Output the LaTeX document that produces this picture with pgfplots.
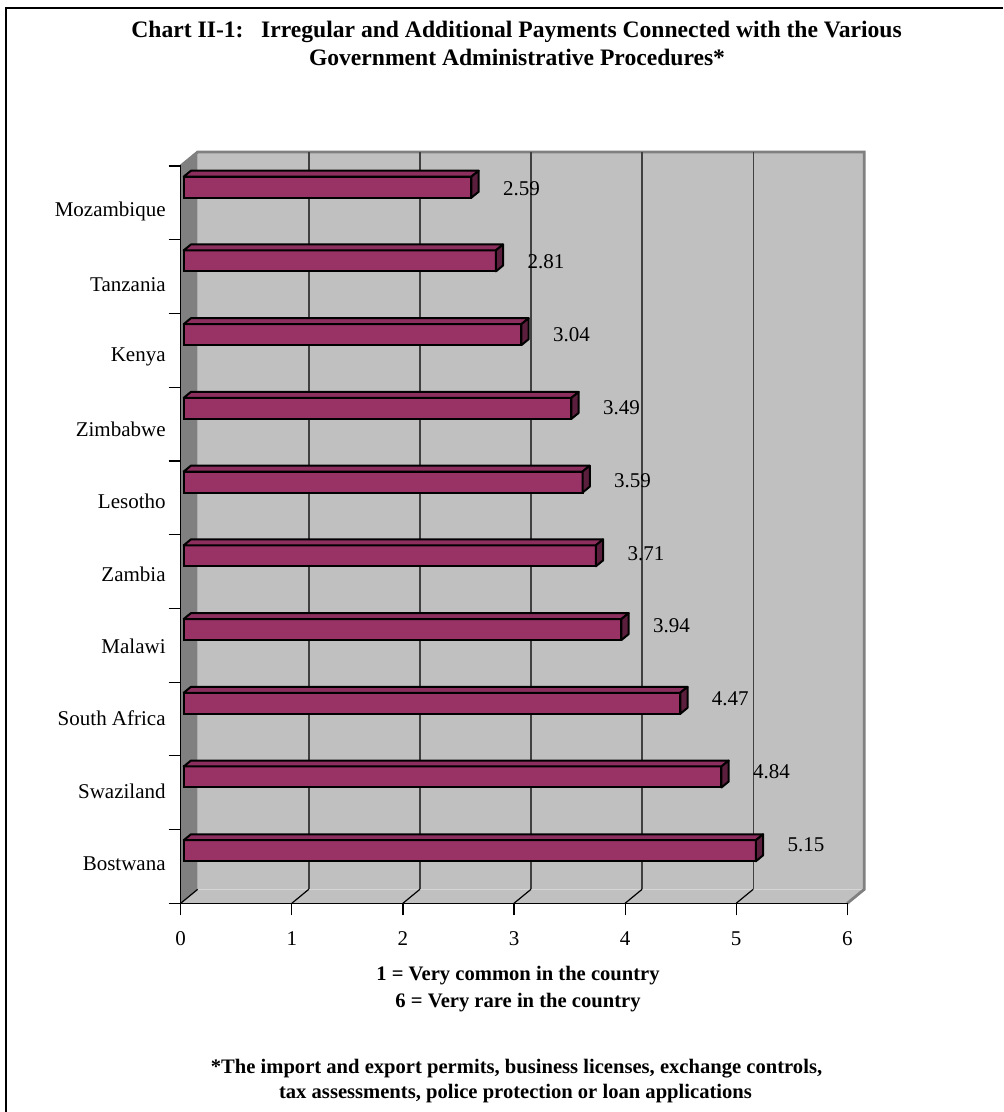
\documentclass[border=0pt]{standalone}
\usepackage{fontspec}
\setmainfont{Liberation Serif}
\usepackage{pgfplots}
\pgfplotsset{compat=1.18}
\usepackage{pgfplotstable}
\definecolor{barfront}{HTML}{993366}
\definecolor{bartop}{HTML}{8C2F5E}
\definecolor{barside}{HTML}{5C1E3D}
\definecolor{wall}{HTML}{C0C0C0}
\definecolor{sidewall}{HTML}{808080}
\pgfdeclareplotmark{nothing}{}

% p = position from bottom (0 = Bostwana), v = value
\pgfplotstableread{
p v
9 2.59
8 2.81
7 3.04
6 3.49
5 3.59
4 3.71
3 3.94
2 4.47
1 4.84
0 5.15
}\data

\begin{document}
\begin{tikzpicture}
\useasboundingbox (0pt,0pt) rectangle (501.5pt,556pt);
% frame
\draw[line width=1pt] (3pt,0pt) -- (3pt,552pt) -- (501.5pt,552pt);
% walls and floor
\fill[wall] (98.85pt,111.35pt) rectangle (432.15pt,480pt);
\fill[wall] (90.35pt,104.35pt) -- (423.65pt,104.35pt) -- (432.15pt,111.35pt) -- (98.85pt,111.35pt) -- cycle;
\fill[sidewall] (90.35pt,104.35pt) -- (98.85pt,111.35pt) -- (98.85pt,480pt) -- (90.35pt,473pt) -- cycle;
\draw[sidewall, line width=1.4pt, line join=miter] (90.35pt,473pt) -- (98.85pt,480pt) -- (432.15pt,480pt) -- (432.15pt,111.35pt) -- (423.65pt,104.35pt);
% gridlines on back wall and floor
\foreach \k in {1,...,5} \draw[black!75, line width=0.7pt] ({98.85pt+\k*55.55pt},111.35pt) -- ({98.85pt+\k*55.55pt},480pt);
\foreach \k in {0,...,5} \draw[black, line width=0.6pt] ({90.35pt+\k*55.55pt},104.35pt) -- ({98.85pt+\k*55.55pt},111.35pt);

\begin{axis}[
  at={(90.35pt,104.35pt)}, anchor=south west,
  scale only axis, width=333.3pt, height=368.65pt,
  xmin=0, xmax=6, ymin=0, ymax=10,
  axis lines*=left,
  axis line style={black, line width=0.6pt},
  xtick={0,1,2,3,4,5,6},
  ytick={0.5407,1.5226,2.5045,3.4865,4.4684,5.4503,6.4322,7.4141,8.3961,9.3780},
  yticklabels={Bostwana,Swaziland,South Africa,Malawi,Zambia,Lesotho,Zimbabwe,Kenya,Tanzania,Mozambique},
  minor ytick={0,1,2,3,4,5,6,7,8,9,10},
  tick align=outside,
  major tick length=6pt, minor tick length=6pt,
  major y tick style={draw=none},
  minor y tick style={black, line width=0.6pt},
  major x tick style={black, line width=0.6pt},
  tick label style={font=\fontsize{10.5}{12}\selectfont},
  xticklabel style={yshift=-4.5pt},
  yticklabel style={xshift=2pt},
  /pgf/number format/assume math mode=true,
  clip=false,
]
\addplot[xbar, bar width=10.5pt, fill=barfront, draw=black, line width=1pt, xshift=1.5pt,
  point meta=x,
  visualization depends on={(9-\thisrow{p})*0.45-1 \as \ly},
  nodes near coords={\pgfmathprintnumber[fixed,fixed zerofill,precision=2]{\pgfplotspointmeta}},
  nodes near coords style={anchor=west, xshift=12pt, yshift=\ly pt, black, font=\fontsize{10.5}{12}\selectfont}]
  table[x=v, y expr=\thisrow{p}+0.713] {\data};
\addplot[scatter, only marks, mark=nothing, xshift=1.5pt,
  visualization depends on={\thisrow{v}*55.55 \as \barlen},
  scatter/@pre marker code/.code={%
    \filldraw[fill=bartop, draw=black, line width=1pt, line join=round]
      ({-\barlen pt},5.25pt) -- (0pt,5.25pt) -- (3.6pt,8.2pt) -- ({-\barlen pt+3.6pt},8.2pt) -- cycle;
    \filldraw[fill=barside, draw=black, line width=1pt, line join=round]
      (0pt,-5.25pt) -- (0pt,5.25pt) -- (3.6pt,8.2pt) -- (3.6pt,-2.3pt) -- cycle;
  },
  scatter/@post marker code/.code={}]
  table[x=v, y expr=\thisrow{p}+0.713] {\data};
\end{axis}

% titles and notes
\node[anchor=base, font=\bfseries\fontsize{11.8}{16}\selectfont] at (258.3pt,537pt) {Chart II-1:\hspace{0.75em}Irregular and Additional Payments Connected with the Various};
\node[anchor=base, font=\bfseries\fontsize{11.8}{16}\selectfont] at (258.5pt,523.35pt) {Government Administrative Procedures*};
\node[anchor=base, font=\bfseries\fontsize{10.3}{13}\selectfont] at (259pt,65.5pt) {1 = Very common in the country};
\node[anchor=base, font=\bfseries\fontsize{10.3}{13}\selectfont] at (259pt,52pt) {6 = Very rare in the country};
\node[anchor=base, font=\bfseries\fontsize{10.3}{13}\selectfont] at (258.25pt,19.5pt) {*The import and export permits, business licenses, exchange controls,};
\node[anchor=base, font=\bfseries\fontsize{10.3}{13}\selectfont] at (257.75pt,6.5pt) {tax assessments, police protection or loan applications};
\end{tikzpicture}
\end{document}
